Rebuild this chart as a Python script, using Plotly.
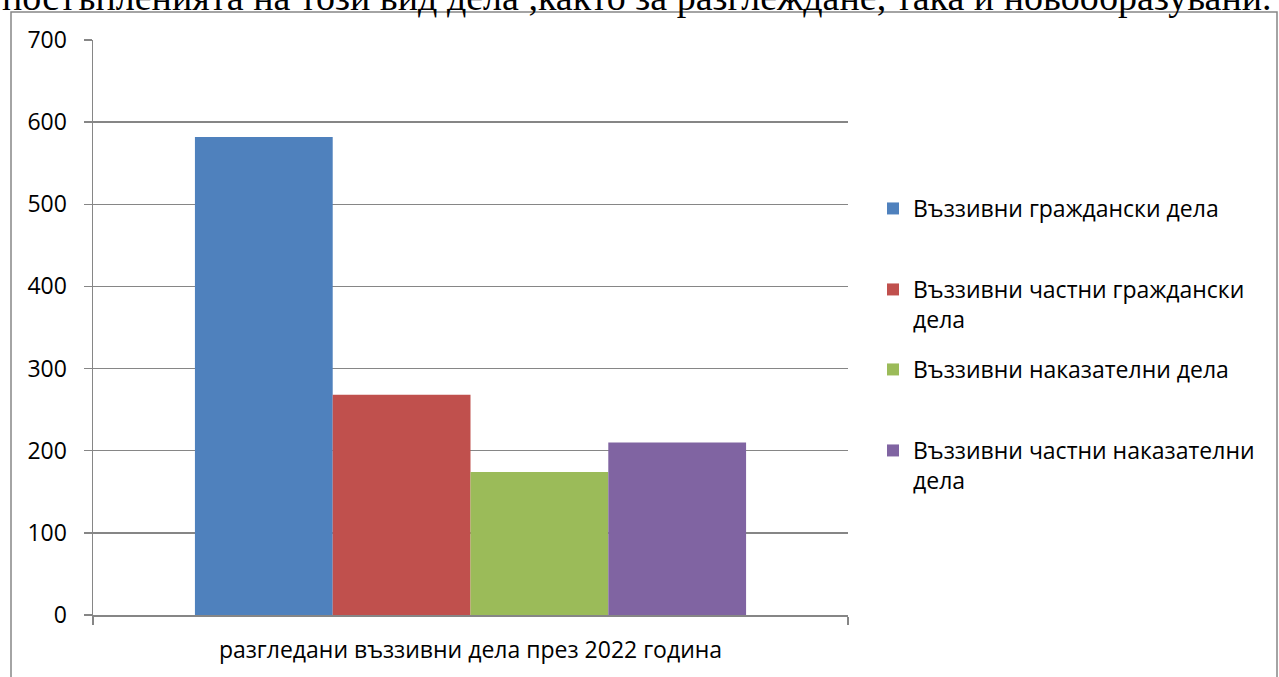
import plotly.graph_objects as go

category = ["разгледани въззивни дела през 2022 година"]
series_names = [
    "Въззивни граждански дела",
    "Въззивни частни граждански<br>дела",
    "Въззивни наказателни дела",
    "Въззивни частни наказателни<br>дела",
]
series_values = [[582], [268], [174], [210]]
series_colors = ["#4F81BD", "#C0504D", "#9BBB59", "#8064A2"]
y_ticks = [0, 100, 200, 300, 400, 500, 600, 700]
top_text = "постъпленията на този вид дела ,както за разглеждане, така и новообразувани."

W, H = 1279, 677
L, R, T, B = 93, 431, 40, 62
pw, ph = W - L - R, H - T - B

def px_x(p):
    return (p - L) / pw

def px_y(p):
    return (H - B - p) / ph

FONT = "Open Sans"
FS = 23
GRID = "#868686"
fig = go.Figure()
legend_ids = ["legend", "legend2", "legend3", "legend4"]
legend_centers = [208, 289, 369, 450]
for name, vals, col, lid in zip(series_names, series_values, series_colors, legend_ids):
    fig.add_trace(go.Bar(x=category, y=vals, name=name, marker=dict(color=col, line=dict(width=0)),
                         legend=lid))

layout_legends = {}
for lid, c in zip(legend_ids, legend_centers):
    layout_legends[lid] = dict(
        x=px_x(873), y=px_y(c - 21), xanchor="left", yanchor="top",
        font=dict(family=FONT, size=FS, color="#000000"),
        bgcolor="rgba(0,0,0,0)", borderwidth=0, valign="top",
        itemclick=False, itemdoubleclick=False,
    )

fig.update_layout(
    width=W, height=H,
    margin=dict(l=L, r=R, t=T, b=B, autoexpand=False),
    paper_bgcolor="white", plot_bgcolor="white",
    barmode="group", bargap=0.27, bargroupgap=0,
    showlegend=True,
    font=dict(family=FONT, size=FS, color="#000000"),
    **layout_legends,
)
fig.update_yaxes(
    range=[0, 700], tickvals=y_ticks, showgrid=True, gridcolor=GRID, gridwidth=1.5,
    showline=True, linecolor=GRID, linewidth=1.5,
    ticks="outside", ticklen=8, tickcolor=GRID, tickwidth=1.5,
    ticklabelstandoff=12, tickfont=dict(family=FONT, size=FS, color="#000000"),
    zeroline=False, fixedrange=True,
)
fig.update_xaxes(
    type="category", showgrid=False, showline=True, linecolor=GRID, linewidth=1.5,
    ticks="outside", tickson="boundaries", ticklen=8, tickcolor=GRID, tickwidth=1.5,
    tickfont=dict(family=FONT, size=FS, color="#000000"), ticklabelstandoff=14,
    fixedrange=True,
)
# chart border
fig.add_shape(type="rect", xref="paper", yref="paper",
              x0=px_x(11), x1=px_x(1277), y0=px_y(690), y1=px_y(12),
              line=dict(color=GRID, width=1.5), fillcolor="rgba(0,0,0,0)", layer="below")
# cut-off document text above the chart
fig.add_annotation(xref="paper", yref="paper", x=px_x(0), y=px_y(20),
                   xanchor="left", yanchor="bottom", showarrow=False,
                   text=top_text, font=dict(family="Liberation Serif", size=38, color="#000000"))

fig.write_html("out.html", config={"displayModeBar": False, "staticPlot": True},
               post_script="document.body.style.margin='0';document.body.style.overflow='hidden';")
